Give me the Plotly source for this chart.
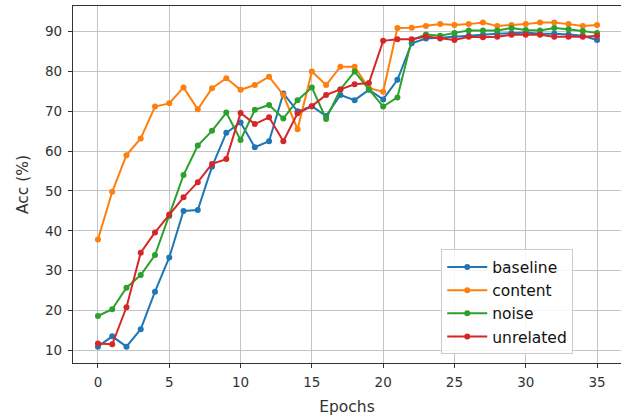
import plotly.graph_objects as go

epochs = list(range(36))

baseline = [10.9, 13.5, 10.9, 15.3, 24.7, 33.3, 45.0, 45.2, 56.1, 64.6,
            67.2, 61.0, 62.5, 74.5, 70.0, 71.3, 68.8, 74.1, 72.8, 75.4,
            73.0, 77.9, 87.1, 88.3, 88.5, 88.8, 89.0, 89.2, 89.5, 89.6,
            89.8, 89.5, 89.5, 89.3, 89.0, 87.9]
content = [37.8, 49.8, 59.0, 63.2, 71.2, 72.0, 76.0, 70.5, 75.8, 78.3,
           75.4, 76.6, 78.7, 74.1, 65.5, 80.0, 76.6, 81.2, 81.2, 75.8,
           74.9, 90.9, 91.0, 91.4, 91.9, 91.7, 91.9, 92.3, 91.4, 91.7,
           91.9, 92.3, 92.3, 91.9, 91.4, 91.7]
noise = [18.6, 20.3, 25.7, 28.9, 33.9, 43.7, 54.0, 61.4, 65.1, 69.7,
         62.8, 70.4, 71.6, 68.2, 72.8, 76.0, 68.1, 75.5, 80.0, 75.5,
         71.2, 73.5, 87.9, 89.3, 89.0, 89.7, 90.3, 90.3, 90.3, 90.9,
         90.4, 90.3, 90.9, 90.6, 90.2, 89.7]
unrelated = [11.7, 11.5, 20.8, 34.5, 39.6, 44.1, 48.4, 52.2, 56.8, 58.0,
             69.6, 66.8, 68.5, 62.5, 69.5, 71.3, 74.1, 75.5, 76.8, 77.1,
             87.7, 88.1, 88.1, 88.8, 88.3, 87.9, 88.7, 88.6, 88.7, 89.2,
             89.2, 89.2, 88.7, 88.7, 88.7, 88.9]

series = [("baseline", baseline, "#1f77b4"),
          ("content", content, "#ff7f0e"),
          ("noise", noise, "#2ca02c"),
          ("unrelated", unrelated, "#d62728")]

x_ticks = [0, 5, 10, 15, 20, 25, 30, 35]
y_ticks = [10, 20, 30, 40, 50, 60, 70, 80, 90]

fig = go.Figure()
for name, vals, color in series:
    fig.add_trace(go.Scatter(
        x=epochs, y=vals, name=name, mode="lines+markers",
        line=dict(color=color, width=2),
        marker=dict(color=color, size=6),
    ))

font_family = "DejaVu Sans"
axis_common = dict(
    showgrid=True, gridcolor="#c4c4c4", gridwidth=1.2,
    showline=True, linecolor="#333333", linewidth=1.2, mirror=True,
    ticks="outside", ticklen=4, tickcolor="#333333", tickwidth=1,
    tickfont=dict(family=font_family, size=13.5, color="#333333"),
    zeroline=False, automargin=False,
)

fig.update_layout(
    width=621, height=416,
    margin=dict(l=73, r=0, t=6, b=53),
    plot_bgcolor="white", paper_bgcolor="white",
    font=dict(family=font_family, color="#333333"),
    xaxis=dict(range=[-1.75, 36.68], tickvals=x_ticks, ticklabelstandoff=3,
               title=dict(text="Epochs", font=dict(size=15.5, family=font_family, color="#333333"), standoff=12),
               **axis_common),
    yaxis=dict(range=[6.8, 96.45], tickvals=y_ticks, ticklabelstandoff=3,
               title=dict(text="Acc (%)", font=dict(size=15.5, family=font_family, color="#333333"), standoff=12),
               **axis_common),
    legend=dict(x=0.672, y=0.024, xanchor="left", yanchor="bottom",
                bgcolor="rgba(255,255,255,0.85)", bordercolor="#cccccc", borderwidth=1,
                font=dict(family=font_family, size=15.5, color="#111111"),
                tracegroupgap=0, itemwidth=40),
    showlegend=True,
)

fig.write_html("out.html", config={"displayModeBar": False},
               post_script="document.body.style.margin='0';")
